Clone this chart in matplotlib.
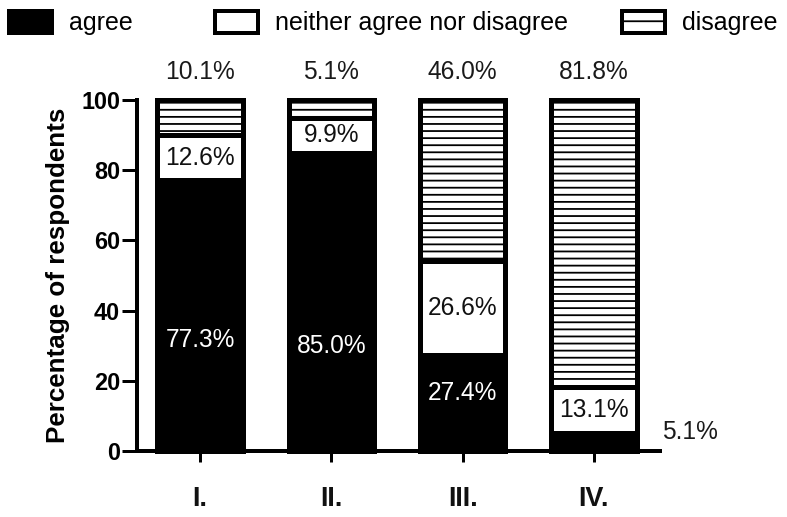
import matplotlib
matplotlib.use('Agg')
import matplotlib.pyplot as plt
from matplotlib.patches import Patch

# ---- data ----
categories = ['I.', 'II.', 'III.', 'IV.']
agree = [77.3, 85.0, 27.4, 5.1]
neither = [12.6, 9.9, 26.6, 13.1]
disagree = [10.1, 5.1, 46.0, 81.8]
yticks = [0, 20, 40, 60, 80, 100]
series_names = ['agree', 'neither agree nor disagree', 'disagree']

# ---- layout helpers ----
DPI = 85
PT = 72 / DPI


def px(v):
    return v * PT


agree_label_y = [31.5, 30.0, 16.5, None]   # layout positions for the white labels

plt.rcParams['font.family'] = ['Liberation Sans', 'DejaVu Sans']
plt.rcParams['hatch.linewidth'] = px(1.8)
plt.rcParams['hatch.color'] = '#222222'

fig = plt.figure(figsize=(787 / DPI, 517 / DPI), dpi=DPI)
ax = fig.add_axes([137 / 787, 1 - 451 / 517, (660 - 137) / 787, (451 - 100) / 517])

x = list(range(len(categories)))
lw = px(5)
w = 0.65
mid = [a + n for a, n in zip(agree, neither)]

ax.bar(x, agree, width=w, color='black', edgecolor='black', linewidth=lw, clip_on=False, zorder=2)
ax.bar(x, neither, bottom=agree, width=w, color='white', edgecolor='black', linewidth=lw, clip_on=False, zorder=2)
ax.bar(x, disagree, bottom=mid, width=w, color='white', edgecolor='black', hatch='--', linewidth=lw,
       clip_on=False, zorder=2)

ax.set_xlim(-0.48, 3.503)
ax.set_ylim(0, 100)

fs_lab = px(24.5)
for i in x:
    ax.text(i, 108.0, f'{disagree[i]:.1f}%', ha='center', va='center', fontsize=fs_lab,
            color='#1a1a1a', clip_on=False)
    ax.text(i, agree[i] + neither[i] / 2, f'{neither[i]:.1f}%', ha='center', va='center',
            fontsize=fs_lab, color='#111111', zorder=3)
    if agree_label_y[i] is not None:
        ax.text(i, agree_label_y[i], f'{agree[i]:.1f}%', ha='center', va='center',
                fontsize=fs_lab, color='white', zorder=3)
    else:
        ax.text(i + 0.73, 5.4, f'{agree[i]:.1f}%', ha='center', va='center',
                fontsize=fs_lab, color='#1a1a1a', clip_on=False, zorder=3)

ax.set_xticks(x)
ax.set_xticklabels(categories, fontweight='bold', fontsize=px(27), color='#111111')
ax.tick_params(axis='x', length=px(11), width=px(3), pad=px(24), direction='out')
ax.set_yticks(yticks)
ax.set_yticklabels([str(t) for t in yticks], fontweight='bold', fontsize=px(23.5))
ax.tick_params(axis='y', length=px(15), width=px(3), pad=px(2), direction='out')

for s in ['top', 'right']:
    ax.spines[s].set_visible(False)
for s in ['left', 'bottom']:
    ax.spines[s].set_linewidth(px(4))

ax.set_ylabel('Percentage of respondents', fontweight='bold', fontsize=px(26))
ax.yaxis.set_label_coords(-0.128, 0.5)

# ---- legend (three separate entries across the top) ----
handles = [
    Patch(facecolor='black', edgecolor='black', linewidth=px(4)),
    Patch(facecolor='white', edgecolor='black', linewidth=px(4)),
    Patch(facecolor='white', edgecolor='black', linewidth=px(4), hatch='-'),
]
leg_x = [9, 215, 622]
for h, name, lx in zip(handles, series_names, leg_x):
    fig.legend(handles=[h], labels=[name], loc='center left',
               bbox_to_anchor=(lx / 787, 1 - 23 / 517), frameon=False, borderpad=0,
               borderaxespad=0, handlelength=1.7, handleheight=1.0, handletextpad=0.7,
               fontsize=px(25))

fig.savefig('out.png', dpi=DPI)
